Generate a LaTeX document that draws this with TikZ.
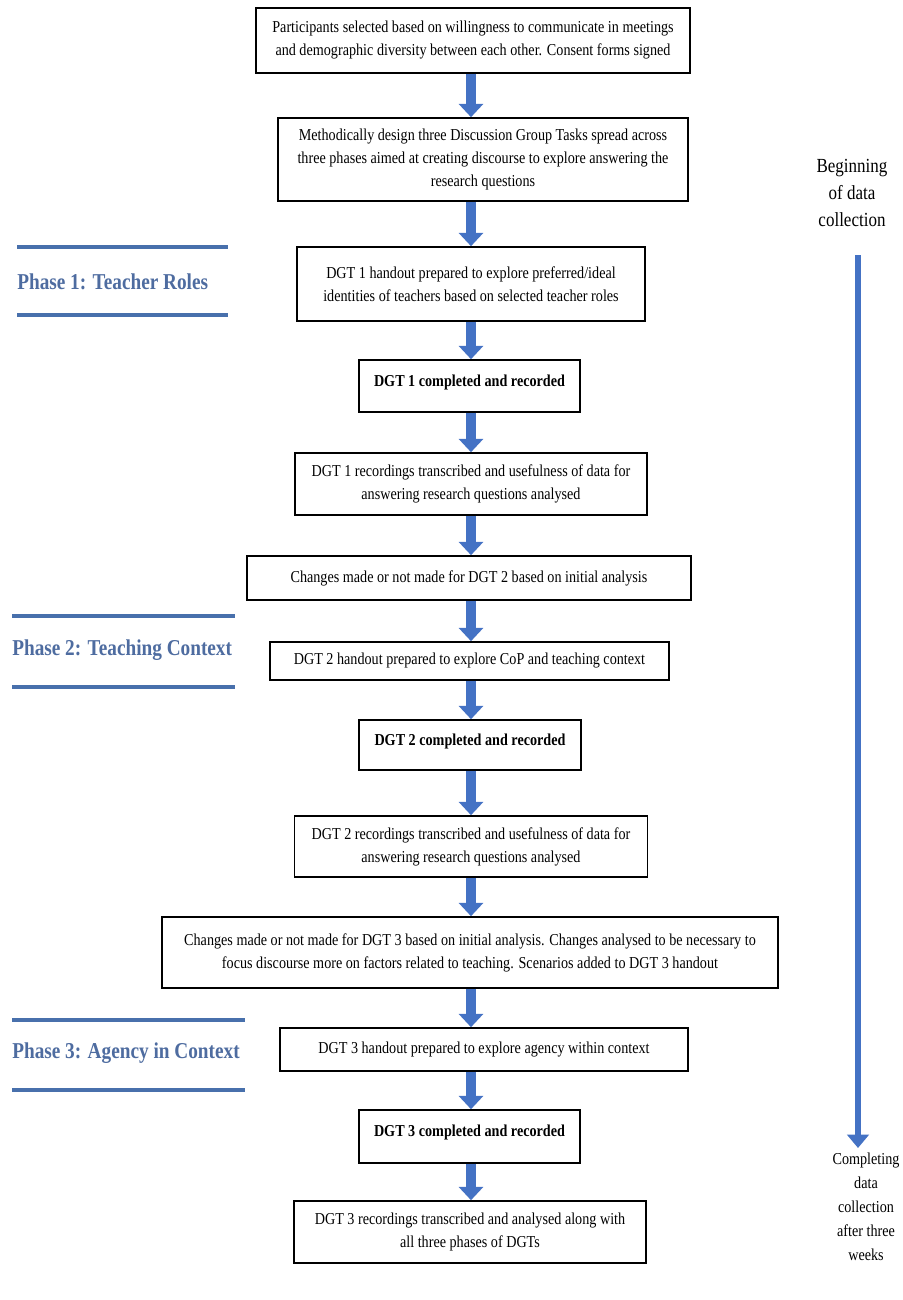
\documentclass[tikz,border=0pt]{standalone}
\usepackage{fontspec}
\setmainfont{Liberation Serif}[FakeStretch=0.85]
\usetikzlibrary{arrows.meta}

\definecolor{arrowblue}{RGB}{68,114,196}
\definecolor{phaseblue}{RGB}{72,112,172}
\definecolor{phasetext}{RGB}{78,108,160}

\begin{document}
\begin{tikzpicture}[x=0.75pt, y=-0.75pt,
    box/.style={draw, line width=1.2pt, align=center, inner sep=2pt,
      font=\fontsize{12.5}{17.25}\selectfont},
    boldbox/.style={box, text depth=8pt, font=\fontsize{12.5}{17.25}\selectfont\bfseries},
    flow/.style={line width=8pt, arrowblue, -{Triangle[width=18pt,length=10pt]}},
    timeline/.style={line width=5pt, arrowblue, -{Triangle[width=16pt,length=10pt]}},
    phaseline/.style={line width=3pt, phaseblue},
    phase/.style={anchor=west, inner sep=0pt, text=phasetext,
      font=\fontsize{17}{20}\selectfont\bfseries},
    side/.style={align=center, inner sep=0pt, font=\fontsize{15}{20.5}\selectfont}
  ]
  \useasboundingbox (0,0) rectangle (903,1300);
  \coordinate (spine) at (471,0);

  % 流程框
  \node[box, minimum width=325.5pt, minimum height=48.75pt] (b1) at (473,40.5)
    {Participants selected based on willingness to communicate in meetings\\and demographic diversity between each other. Consent forms signed};
  \node[box, minimum width=307.5pt, minimum height=62.25pt] (b2) at (483,159.5)
    {Methodically design three Discussion Group Tasks spread across\\three phases aimed at creating discourse to explore answering the\\research questions};
  \node[box, minimum width=261pt, minimum height=55.5pt] (b3) at (471,284)
    {DGT 1 handout prepared to explore preferred/ideal\\identities of teachers based on selected teacher roles};
  \node[boldbox, minimum width=165.75pt, minimum height=39pt] (b4) at (469.5,386)
    {DGT 1 completed and recorded};
  \node[box, minimum width=264pt, minimum height=46.5pt] (b5) at (471,484)
    {DGT 1 recordings transcribed and usefulness of data for\\answering research questions analysed};
  \node[box, minimum width=333pt, minimum height=33pt] (b6) at (469,578)
    {Changes made or not made for DGT 2 based on initial analysis};
  \node[box, minimum width=299.25pt, minimum height=28.5pt] (b7) at (469.5,661)
    {DGT 2 handout prepared to explore CoP and teaching context};
  \node[boldbox, minimum width=166.5pt, minimum height=37.5pt] (b8) at (470,745)
    {DGT 2 completed and recorded};
  \node[box, minimum width=264.75pt, minimum height=45.75pt] (b9) at (471,846.5)
    {DGT 2 recordings transcribed and usefulness of data for\\answering research questions analysed};
  \node[box, minimum width=462pt, minimum height=53.25pt] (b10) at (470,952.5)
    {Changes made or not made for DGT 3 based on initial analysis. Changes analysed to be necessary to\\focus discourse more on factors related to teaching. Scenarios added to DGT 3 handout};
  \node[box, minimum width=306pt, minimum height=32.25pt] (b11) at (484,1049.5)
    {DGT 3 handout prepared to explore agency within context};
  \node[boldbox, minimum width=165.75pt, minimum height=39.75pt] (b12) at (469.5,1136.5)
    {DGT 3 completed and recorded};
  \node[box, minimum width=264pt, minimum height=46.5pt] (b13) at (470,1232)
    {DGT 3 recordings transcribed and analysed along with\\all three phases of DGTs};

  % 箭头
  \foreach \a/\b in {b1/b2, b2/b3, b3/b4, b4/b5, b5/b6, b6/b7, b7/b8,
                     b8/b9, b9/b10, b10/b11, b11/b12, b12/b13}
    \draw[flow] (\a.south -| spine) -- (\b.north -| spine);

  % 阶段标题
  \draw[phaseline] (17,247) -- (228,247);
  \node[phase] (p1) at (17,282) {Phase 1: Teacher Roles};
  \draw[phaseline] (17,315) -- (228,315);

  \draw[phaseline] (12,616) -- (235,616);
  \node[phase] (p2) at (12,650) {Phase 2: Teaching Context};
  \draw[phaseline] (12,687) -- (235,687);

  \draw[phaseline] (12,1020) -- (245,1020);
  \node[phase] (p3) at (12,1053) {Phase 3: Agency in Context};
  \draw[phaseline] (12,1090) -- (245,1090);

  % 时间轴
  \node[side] (begin) at (852,193) {Beginning\\of data\\collection};
  \node[side, font=\fontsize{12.5}{18}\selectfont] (complete) at (866,1207)
    {Completing\\data\\collection\\after three\\weeks};
  \coordinate (tstart) at (858,255);
  \coordinate (tend) at (858,1148);
  \draw[timeline] (tstart) -- (tend);
\end{tikzpicture}
\end{document}
